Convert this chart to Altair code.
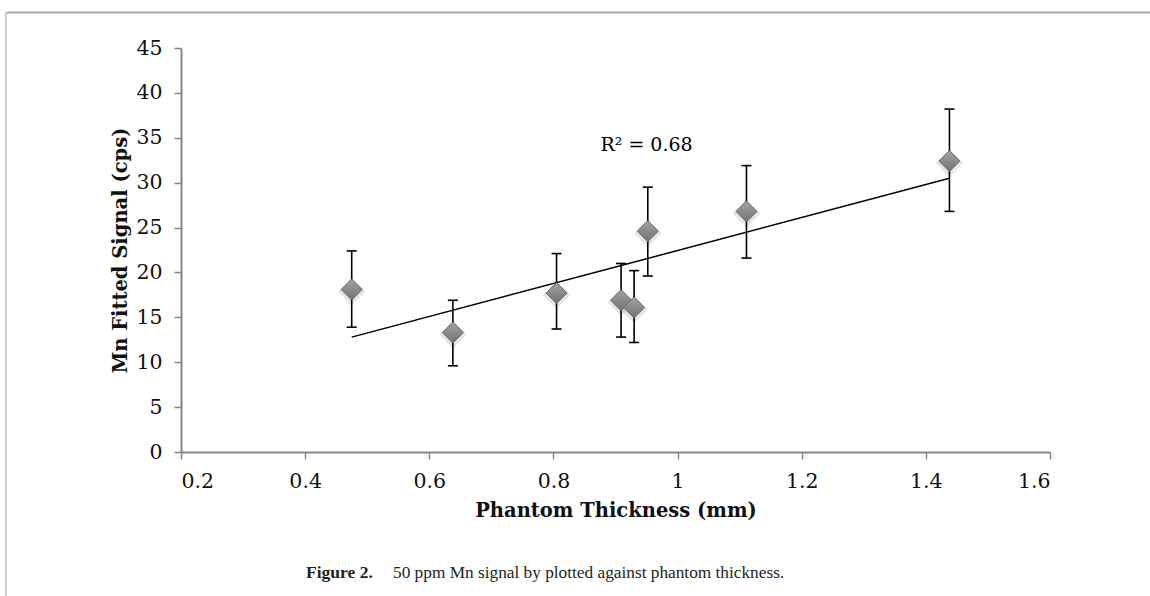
import altair as alt
import pandas as pd

# Measured Mn signal per phantom thickness, with error bar limits
thickness = [0.475, 0.638, 0.805, 0.909, 0.930, 0.952, 1.111, 1.438]
signal = [18.1, 13.3, 17.7, 16.9, 16.1, 24.6, 26.8, 32.4]
err_low = [13.9, 9.6, 13.7, 12.8, 12.2, 19.6, 21.6, 26.8]
err_high = [22.4, 16.9, 22.1, 21.0, 20.2, 29.5, 31.9, 38.2]

# Axis ticks
x_ticks = [0.2, 0.4, 0.6, 0.8, 1.0, 1.2, 1.4, 1.6]
y_ticks = [0, 5, 10, 15, 20, 25, 30, 35, 40, 45]

# Fit annotation
r2_text = ["R² = 0.68"]
r2_x = [0.95]
r2_y = [34.2]

caption_bold = "Figure 2."
caption_rest = "50 ppm Mn signal by plotted against phantom thickness."

W, H = 869, 404
LEFT, TOP = 181, 48

df = pd.DataFrame({"x": thickness, "y": signal, "lo": err_low, "hi": err_high})
note = pd.DataFrame({"label": r2_text, "x": r2_x, "y": r2_y})
one = pd.DataFrame({"k": [0]})

serif = "DejaVu Serif"
x_scale = alt.Scale(domain=[0.2, 1.6], nice=False, zero=False)
y_scale = alt.Scale(domain=[0, 45], nice=False)

x_axis = alt.Axis(
    title="Phantom Thickness (mm)", values=x_ticks, grid=False,
    labelExpr="format(datum.value, '.1~f')",
)
y_axis = alt.Axis(title="Mn Fitted Signal (cps)", values=y_ticks, grid=False)

base = alt.Chart(df)

bars = base.mark_rule(color="black", strokeWidth=1.6).encode(
    x=alt.X("x:Q", scale=x_scale, axis=x_axis),
    y=alt.Y("lo:Q", scale=y_scale, axis=y_axis),
    y2="hi:Q",
)
cap_top = base.mark_rule(color="black", strokeWidth=1.6, xOffset=-5, x2Offset=5).encode(
    x="x:Q", x2="x:Q", y="hi:Q"
)
cap_bot = base.mark_rule(color="black", strokeWidth=1.6, xOffset=-5, x2Offset=5).encode(
    x="x:Q", x2="x:Q", y="lo:Q"
)

trend = base.transform_regression("x", "y").mark_line(color="black", strokeWidth=1.5).encode(
    x="x:Q", y="y:Q"
)

shadow = base.mark_point(
    shape="diamond", filled=True, size=760, color="#000000", opacity=0.10, yOffset=2
).encode(x="x:Q", y="y:Q")

diamonds = base.mark_point(
    shape="diamond", filled=True, size=441, opacity=1,
    fill=alt.Gradient(
        gradient="linear",
        stops=[
            alt.GradientStop(color="#a4a4a4", offset=0),
            alt.GradientStop(color="#8a8a8a", offset=0.5),
            alt.GradientStop(color="#727272", offset=1),
        ],
        x1=0, y1=0, x2=0, y2=1,
    ),
    stroke="#6a6a6a", strokeWidth=1,
).encode(x="x:Q", y="y:Q")

r2 = alt.Chart(note).mark_text(
    font=serif, fontSize=19, color="black", align="center", baseline="middle"
).encode(x="x:Q", y="y:Q", text="label:N")

# Outer frame (top and left edges)
frame_top = alt.Chart(one).mark_rule(color="#a8a8a8", strokeWidth=2).encode(
    x=alt.value(7 - LEFT), x2=alt.value(1150 - LEFT + 5), y=alt.value(12.5 - TOP)
)
frame_left = alt.Chart(one).mark_rule(color="#cccccc", strokeWidth=2).encode(
    x=alt.value(6 - LEFT), y=alt.value(12 - TOP), y2=alt.value(596 - TOP + 5)
)

cap1 = alt.Chart(one).mark_text(
    text=caption_bold, font="Liberation Serif", fontSize=17.5, fontWeight="bold",
    align="left", baseline="alphabetic", color="#231f20",
).encode(x=alt.value(306 - LEFT), y=alt.value(578 - TOP))
cap2 = alt.Chart(one).mark_text(
    text=caption_rest, font="Liberation Serif", fontSize=17.3,
    align="left", baseline="alphabetic", color="#231f20",
).encode(x=alt.value(393 - LEFT), y=alt.value(578 - TOP))

chart = (
    alt.layer(frame_top, frame_left, trend, bars, cap_top, cap_bot, shadow, diamonds, r2, cap1, cap2)
    .properties(
        width=W, height=H,
        autosize=alt.AutoSizeParams(type="none"),
        padding={"left": LEFT, "top": TOP, "right": 1150 - LEFT - W, "bottom": 596 - TOP - H},
        background="white",
    )
    .configure_view(stroke=None)
    .configure_axis(
        domainColor="#868686", domainWidth=2, tickColor="#868686", tickWidth=1.5,
        tickSize=7, labelFont=serif, labelFontSize=20.5, labelColor="#111111",
        labelPadding=12, titleFont=serif, titleFontSize=19.5, titleFontWeight="bold",
        titleColor="#111111",
    )
    .configure_axisX(titlePadding=10)
    .configure_axisY(titlePadding=5)
)

chart.save("out.html", embed_options={"renderer": "svg", "actions": False})
